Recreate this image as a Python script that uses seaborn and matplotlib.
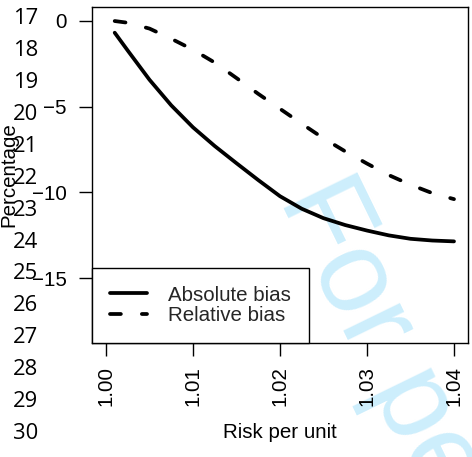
import matplotlib
matplotlib.use("Agg")
import matplotlib.pyplot as plt
import seaborn as sns
import pandas as pd

# ---- data ----
risk = [1.001, 1.0025, 1.005, 1.0075, 1.01, 1.0125, 1.015, 1.0175, 1.02,
        1.0225, 1.025, 1.0275, 1.03, 1.0325, 1.035, 1.0375, 1.04]
absolute_bias = [-0.70, -1.74, -3.44, -4.93, -6.21, -7.30, -8.30, -9.28, -10.22,
                 -10.95, -11.50, -11.90, -12.22, -12.50, -12.70, -12.80, -12.85]
relative_bias = [-0.02, -0.12, -0.46, -1.05, -1.69, -2.44, -3.34, -4.26, -5.13,
                 -6.00, -6.85, -7.61, -8.32, -8.99, -9.55, -10.04, -10.39]
series_names = ["Absolute bias", "Relative bias"]
x_ticks = [1.00, 1.01, 1.02, 1.03, 1.04]
x_tick_labels = ["1.00", "1.01", "1.02", "1.03", "1.04"]
y_ticks = [0, -5, -10, -15]
line_numbers = [str(n) for n in range(17, 31)]
watermark = "For peer review only"

sns.set_theme(style="white")
plt.rcParams["font.family"] = ["Liberation Sans", "DejaVu Sans"]
plt.rcParams["axes.unicode_minus"] = True

W, H = 472, 457
fig = plt.figure(figsize=(W / 100, H / 100), dpi=100)
fig.patch.set_facecolor("white")

ax_l, ax_r, ax_t, ax_b = 92.3, 468.3, 7.3, 342.7
ax = fig.add_axes([ax_l / W, 1 - ax_b / H, (ax_r - ax_l) / W, (ax_b - ax_t) / H])
ax.set_facecolor("none")

df = pd.DataFrame({
    "risk": risk * 2,
    "value": absolute_bias + relative_bias,
    "series": [series_names[0]] * len(risk) + [series_names[1]] * len(risk),
})

sns.lineplot(data=df[df.series == series_names[0]], x="risk", y="value", ax=ax,
             color="black", lw=2.7, solid_capstyle="round", solid_joinstyle="round",
             label=series_names[0])
sns.lineplot(data=df[df.series == series_names[1]], x="risk", y="value", ax=ax,
             color="black", lw=2.7, linestyle=(0, (2.9, 5.6)), dash_capstyle="round",
             label=series_names[1])

ax.set_xlim(0.998425, 1.041644)
ax.set_ylim(-18.75, 0.78)
ax.set_xticks(x_ticks)
ax.set_xticklabels(x_tick_labels, rotation=90)
ax.set_yticks(y_ticks)

for s in ax.spines.values():
    s.set_visible(True)
    s.set_color("black")
    s.set_linewidth(1.0)

ax.tick_params(axis="both", direction="out", length=9.4, width=1.0,
               labelsize=14.8, colors="black", left=True, bottom=True)
ax.tick_params(axis="x", pad=7.5)
ax.tick_params(axis="y", pad=9.0)

ax.set_xlabel("Risk per unit", fontsize=14.8, color="black")
ax.set_ylabel("Percentage", fontsize=14.8, color="black")
ax.xaxis.set_label_coords(0.5, (ax_b - 422.5) / (ax_b - ax_t))
ax.xaxis.label.set_va("top")
ax.yaxis.set_label_coords((18.5 - ax_l) / (ax_r - ax_l), 0.5)

leg = ax.legend(loc="lower left", bbox_to_anchor=(0, 0), borderaxespad=0,
                fontsize=14.8, frameon=True, fancybox=False, framealpha=1,
                edgecolor="black", handlelength=1.8, handletextpad=1.05,
                borderpad=0.85, labelspacing=0.08)
leg.get_frame().set_linewidth(1.0)
for h in leg.get_lines():
    h.set_linewidth(2.7)

# manuscript line numbers
for i, t in enumerate(line_numbers):
    y = 19.0 + 31.86 * i
    fig.text(13 / W, 1 - y / H, t, ha="left", va="center", fontsize=15.8,
             family=["Open Sans", "DejaVu Sans"], color="black")

# watermark
fig.text(278 / W, 1 - 199 / H, watermark, rotation=-64, rotation_mode="anchor",
         ha="left", va="baseline", fontsize=85, color="#cdeefc",
         family=["Liberation Sans", "DejaVu Sans"], zorder=-1)

fig.savefig("out.png", dpi=100)
